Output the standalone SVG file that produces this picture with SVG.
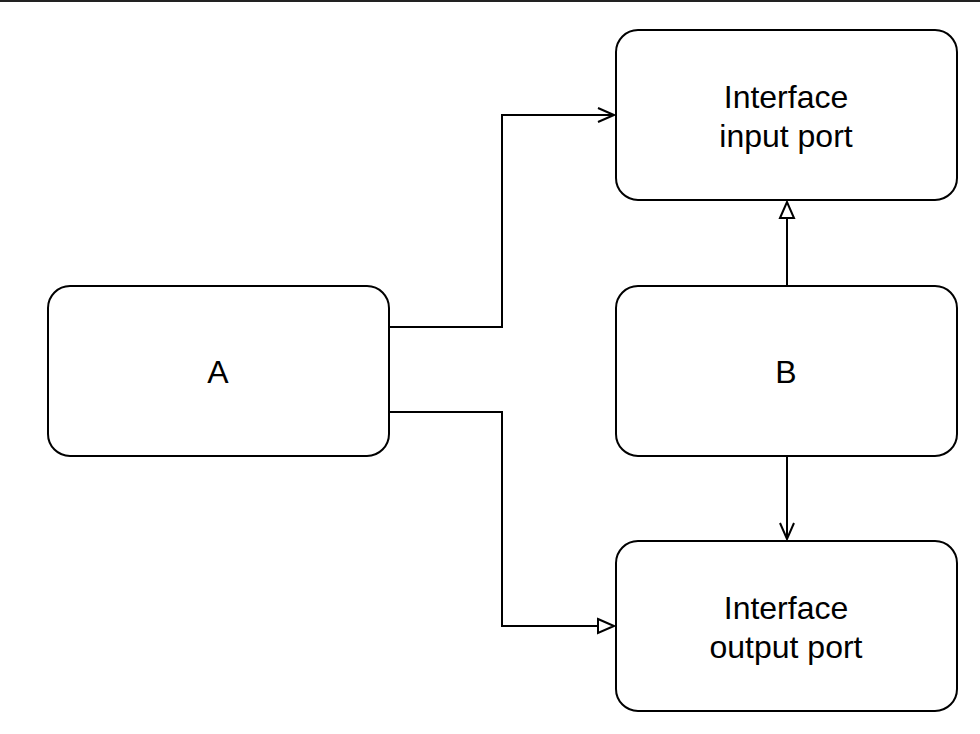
<svg xmlns="http://www.w3.org/2000/svg" width="980" height="734" viewBox="0 0 980 734">
<style>
.node rect{fill:#fff;stroke:#000;stroke-width:2}
.node text{font-family:"Liberation Sans",Arial,sans-serif;font-size:32px;fill:#000;text-anchor:middle}
.edge{fill:none;stroke:#000;stroke-width:2}
</style>
<defs>
<marker id="open" viewBox="0 0 20 20" refX="18" refY="10" markerWidth="20" markerHeight="20" markerUnits="userSpaceOnUse" orient="auto">
<path d="M2,3 L18,10 L2,17" fill="none" stroke="#000" stroke-width="2"/>
</marker>
<marker id="tri" viewBox="0 0 20 20" refX="18" refY="10" markerWidth="20" markerHeight="20" markerUnits="userSpaceOnUse" orient="auto">
<path d="M2,3 L18,10 L2,17 Z" fill="#fff" stroke="#000" stroke-width="2"/>
</marker>
</defs>
<rect x="0" y="0" width="980" height="734" fill="#fff"/>
<rect x="0" y="0" width="980" height="2" fill="#222"/>
<g id="connectors">
<path class="edge" d="M389,327 H502 V115 H614" marker-end="url(#open)"/>
<path class="edge" d="M389,412 H502 V626 H614" marker-end="url(#tri)"/>
<path class="edge" d="M787,286 V202" marker-end="url(#tri)"/>
<path class="edge" d="M787,456 V539" marker-end="url(#open)"/>
</g>
<g id="nodeA" class="node">
<rect x="48" y="286" width="341" height="170" rx="22"/>
<text x="218" y="383">A</text>
</g>
<g id="nodeInput" class="node">
<rect x="616" y="30" width="341" height="170" rx="22"/>
<text x="786" y="108">Interface</text>
<text x="786" y="147">input port</text>
</g>
<g id="nodeB" class="node">
<rect x="616" y="286" width="341" height="170" rx="22"/>
<text x="786" y="383">B</text>
</g>
<g id="nodeOutput" class="node">
<rect x="616" y="541" width="341" height="170" rx="22"/>
<text x="786" y="619">Interface</text>
<text x="786" y="658">output port</text>
</g>
</svg>
